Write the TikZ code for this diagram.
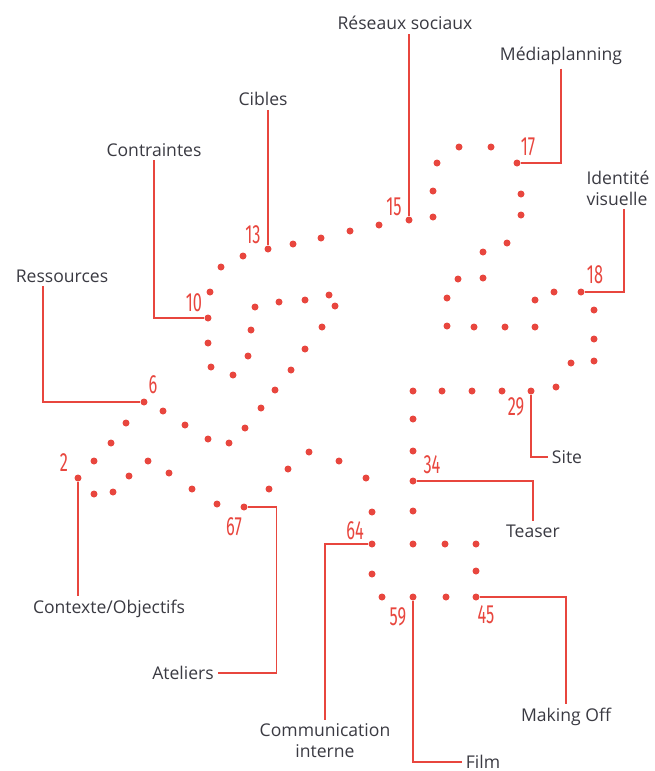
\documentclass[tikz,border=0pt]{standalone}
\usepackage{fontspec}
\setmainfont{Open Sans}
\newfontfamily\numfont{Fira Sans}
\usepackage{graphicx}
\usepackage{xcolor}
\usepackage{tikz}
\usetikzlibrary{positioning}
\definecolor{dotred}{RGB}{232,70,62}
\definecolor{labelgray}{RGB}{58,58,66}
\newcommand{\narrownum}[1]{\scalebox{0.62}[1]{#1}}

\begin{document}
\begin{tikzpicture}[
    x=0.02cm, y=-0.02cm,
    dot/.style={circle, fill=dotred, inner sep=0pt, minimum size=0.14cm},
    tag/.style={font=\fontsize{10}{12}\selectfont, text=labelgray, inner sep=2pt, align=center},
    num/.style={font=\numfont\fontsize{15}{15}\selectfont, text=dotred, inner sep=0pt},
    leader/.style={draw=dotred, line width=0.7pt},
]
    \useasboundingbox (0,0) rectangle (655,771);

    % the dots, in px of the layout
    \foreach \px/\py [count=\i] in {243/256, 268/249, 293/244, 321/238, 350/231, 379/225, 409/220,
        433/217, 433/191, 437/163, 459/147, 491/147, 517/163, 521/194, 521/215, 507/243, 483/252,
        458/279, 483/278, 447/298, 447/326, 474/327, 505/327, 535/327, 535/300, 554/292, 581/292,
        594/310, 594/339, 594/361, 571/363, 556/387, 531/391, 502/391, 472/391, 442/391, 413/391,
        413/419, 413/451, 413/481, 413/511, 413/544, 445/544, 476/544, 476/571, 476/597, 446/597,
        413/597, 382/597, 372/574, 372/544, 372/512, 366/478, 339/461, 309/452, 288/469, 269/489,
        244/507, 217/504, 192/489, 169/473, 148/461, 129/476, 113/492, 94/494, 78/478, 94/461,
        111/443, 126/423, 144/402, 163/411, 185/425, 208/439, 229/443, 245/428, 261/408, 275/390,
        291/370, 305/349, 322/327, 335/306, 329/295, 305/300, 279/302, 255/307, 251/330, 248/356,
        233/375, 211/367, 208/343, 208/318, 210/292, 221/267}
        \node[dot] (d\i) at (\px,\py) {};

    \node[num] (n2) at (64,463) {\narrownum{2}};
    \node[num] (n6) at (153,385) {\narrownum{6}};
    \node[num] (n10) at (194,303) {\narrownum{10}};
    \node[num] (n13) at (253,235) {\narrownum{13}};
    \node[num] (n15) at (394,207) {\narrownum{15}};
    \node[num] (n17) at (528,147) {\narrownum{17}};
    \node[num] (n18) at (595,275) {\narrownum{18}};
    \node[num] (n29) at (516,407) {\narrownum{29}};
    \node[num] (n34) at (432,465) {\narrownum{34}};
    \node[num] (n45) at (486,615) {\narrownum{45}};
    \node[num] (n59) at (398,617) {\narrownum{59}};
    \node[num] (n64) at (355,531) {\narrownum{64}};
    \node[num] (n67) at (234,527) {\narrownum{67}};

    \node[tag] (contexte) at (109,609) {Contexte/Objectifs};
    \node[tag] (ressources) at (62,276) {Ressources};
    \node[tag] (contraintes) at (154,150) {Contraintes};
    \node[tag] (cibles) at (263,99) {Cibles};
    \node[tag] (reseaux) at (405,23) {Réseaux sociaux};
    \node[tag] (media) at (561,56) {Médiaplanning};
    \node[tag, align=left] (identite) at (618,188) {Identité\\visuelle};
    \node[tag] (site) at (567,457) {Site};
    \node[tag] (teaser) at (533,531) {Teaser};
    \node[tag] (making) at (566,717) {Making Off};
    \node[tag] (film) at (483,762) {Film};
    \node[tag] (comm) at (325,741) {Communication\\interne};
    \node[tag] (ateliers) at (183,673) {Ateliers};

    \draw[leader] (d66.south) -- (d66 |- contexte.north);
    \draw[leader] ([xshift=-0.38cm]ressources.south) |- (d70.west);
    \draw[leader] (contraintes.south) |- (d91.west);
    \draw[leader] (d2.north) -- (d2 |- cibles.south);
    \draw[leader] (d7.north) -- (d7 |- reseaux.south);
    \draw[leader] (media.south) |- (d13.east);
    \draw[leader] ([xshift=0.12cm]identite.south) |- (d27.east);
    \draw[leader] (d33.south) |- (site.west);
    \draw[leader] (d40.east) -| (teaser.north);
    \draw[leader] (d46.east) -| (making.north);
    \draw[leader] (d48.south) |- (film.west);
    \draw[leader] (d51.west) -| (comm.north);
    \draw[leader] (d58.east) -- ++(29,0) |- (ateliers.east);
\end{tikzpicture}
\end{document}
